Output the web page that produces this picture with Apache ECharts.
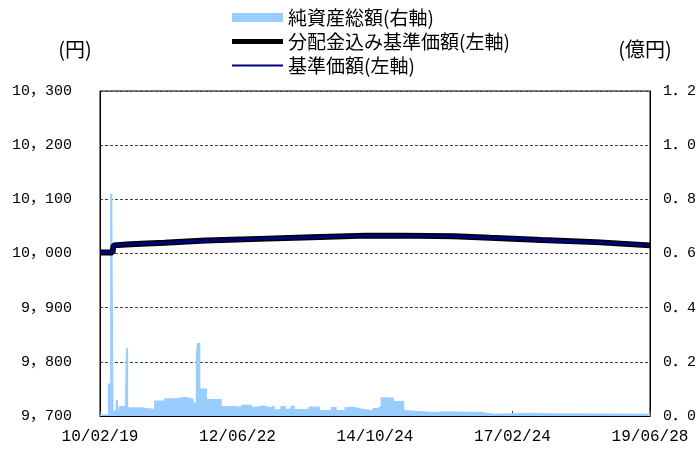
<!DOCTYPE html>
<html>
<head>
<meta charset="utf-8">
<script src="https://cdn.jsdelivr.net/npm/echarts@6/dist/echarts.min.js"></script>
<style>
  html, body { margin: 0; padding: 0; background: #fff; }
  #chart { width: 699px; height: 450px; }
</style>
</head>
<body>
<div id="chart"></div>
<script>
// Weekly fund figures, 2010/02/19 - 2019/06/28
const startDate = '2010-02-19';
const endDate = '2019-06-28';

// Net assets (100 million yen), value held from each date until the next one
const assetDates = [
  '2010-02-19', '2010-04-09', '2010-04-23', '2010-05-07', '2010-05-14', '2010-05-28',
  '2010-06-11', '2010-06-18', '2010-07-23', '2010-07-30', '2010-08-13', '2010-10-29',
  '2011-01-21', '2011-03-25', '2011-06-03', '2011-08-05', '2011-09-23', '2011-10-07',
  '2011-10-14', '2011-11-04', '2011-12-16', '2012-03-16', '2012-06-08', '2012-07-13',
  '2012-09-21', '2012-10-12', '2012-11-30', '2013-01-11', '2013-02-08', '2013-03-15',
  '2013-04-19', '2013-05-17', '2013-06-14', '2013-09-06', '2013-11-15', '2014-01-24',
  '2014-02-28', '2014-04-18', '2014-06-20', '2014-08-08', '2014-10-10', '2014-11-07',
  '2014-11-28', '2015-01-09', '2015-02-20', '2015-04-24', '2015-05-01', '2015-10-30',
  '2016-01-01', '2016-08-19', '2016-11-04', '2017-06-16', '2017-09-22', '2018-09-21',
  '2019-06-28'
];
const assetValues = [
  0.006, 0.12, 0.82, 0.72, 0.02, 0.059,
  0.02, 0.037, 0.03, 0.25, 0.032, 0.027,
  0.057, 0.066, 0.071, 0.064, 0.05, 0.22,
  0.27, 0.102, 0.063, 0.037, 0.034, 0.042,
  0.034, 0.039, 0.033, 0.039, 0.025, 0.037,
  0.027, 0.038, 0.026, 0.035, 0.022, 0.033,
  0.022, 0.033, 0.027, 0.022, 0.03, 0.037,
  0.069, 0.067, 0.055, 0.022, 0.015, 0.018,
  0.015, 0.0085, 0.012, 0.01, 0.009, 0.008,
  0.008
];

// NAV (yen)
const navDates = [
  '2010-02-19', '2010-05-07', '2010-05-14', '2010-08-27', '2011-03-25', '2011-12-09',
  '2012-11-02', '2013-09-27', '2014-08-29', '2015-04-03', '2016-02-26', '2016-10-07',
  '2017-08-25', '2018-07-27', '2019-06-28'
];
const navValues = [
  10002, 10002, 10015, 10017, 10020, 10024,
  10027, 10030, 10033, 10033, 10032, 10029,
  10025, 10021, 10015
];
// NAV including distributions (yen)
const navWithDivValues = [
  10002, 10002, 10015, 10017, 10020, 10024,
  10027, 10030, 10033, 10033, 10032, 10029,
  10025, 10021, 10015
];

const leftTicks = { min: 9700, max: 10300, step: 100 };
const rightTicks = { min: 0, max: 1.2, step: 0.2 };

const DAY = 86400000;
function toUTC(s) {
  const p = s.split('-').map(Number);
  return Date.UTC(p[0], p[1] - 1, p[2]);
}
const t0 = toUTC(startDate);
const dayOf = s => Math.round((toUTC(s) - t0) / DAY);
const totalDays = dayOf(endDate);
const pad = n => (n < 10 ? '0' : '') + n;
function fmtDay(d) {
  const dt = new Date(t0 + d * DAY);
  return pad(dt.getUTCFullYear() % 100) + '/' + pad(dt.getUTCMonth() + 1) + '/' + pad(dt.getUTCDate());
}
const pairs = (dates, vals) => dates.map((d, i) => [dayOf(d), vals[i]]);

// Full-width separators, as printed in the report
const fmtYen = v => {
  const s = String(Math.round(v));
  return s.length > 3 ? s.slice(0, -3) + '，' + s.slice(-3) : s;
};
const fmtOku = v => v.toFixed(1).replace('.', '．');

const monoFont = '"Liberation Mono", "Noto Sans CJK JP", monospace';
const cjkFont = '"Noto Sans CJK JP", sans-serif';

// Legend bars: a thick and a thin stroke inside the 51x9 icon box
const thickLineIcon = 'path://M0,0M51,9M0,2H51V7H0Z';
const thinLineIcon = 'path://M0,0M51,9M0,3.5H51V5.5H0Z';

const chart = echarts.init(document.getElementById('chart'), null, { renderer: 'canvas' });
chart.setOption({
  animation: false,
  backgroundColor: '#fff',
  grid: {
    left: 100, right: 44, top: 91, bottom: 34,
    show: true, borderColor: '#000', borderWidth: 1
  },
  legend: {
    orient: 'vertical',
    left: 232, top: 8, padding: 0,
    itemWidth: 51, itemHeight: 9, itemGap: 5,
    textStyle: { fontFamily: cjkFont, fontSize: 19, color: '#000' },
    data: [
      { name: '純資産総額(右軸)', icon: 'rect' },
      { name: '分配金込み基準価額(左軸)', icon: thickLineIcon },
      { name: '基準価額(左軸)', icon: thinLineIcon }
    ]
  },
  xAxis: {
    type: 'value',
    min: 0, max: totalDays, interval: Math.round(totalDays / 4),
    axisLine: { show: true, lineStyle: { color: '#000', width: 1 } },
    axisTick: { show: true, inside: true, length: 5, lineStyle: { color: '#444' } },
    axisLabel: {
      fontFamily: monoFont, fontSize: 16, color: '#000', margin: 13,
      formatter: v => fmtDay(v)
    },
    splitLine: { show: false }
  },
  yAxis: [
    {
      type: 'value', position: 'left',
      min: leftTicks.min, max: leftTicks.max, interval: leftTicks.step,
      name: '(円)', nameLocation: 'end', nameGap: 32,
      nameTextStyle: { fontFamily: cjkFont, fontSize: 20, color: '#000', align: 'center', padding: [0, 50, 0, 0] },
      axisLine: { show: true, lineStyle: { color: '#000' } },
      axisTick: { show: false },
      axisLabel: {
        fontFamily: monoFont, fontSize: 15, color: '#000', margin: 28,
        formatter: fmtYen
      },
      splitLine: { show: true, lineStyle: { color: '#444', width: 1, type: [3, 2] } }
    },
    {
      type: 'value', position: 'right',
      min: rightTicks.min, max: rightTicks.max, interval: rightTicks.step,
      name: '(億円)', nameLocation: 'end', nameGap: 32,
      nameTextStyle: { fontFamily: cjkFont, fontSize: 20, color: '#000', align: 'center', padding: [0, 10, 0, 0] },
      axisLine: { show: true, lineStyle: { color: '#000' } },
      axisTick: { show: false },
      axisLabel: {
        fontFamily: monoFont, fontSize: 15, color: '#000', margin: 13,
        formatter: fmtOku
      },
      splitLine: { show: false }
    }
  ],
  series: [
    {
      name: '純資産総額(右軸)',
      type: 'line', yAxisIndex: 1, step: 'end',
      symbol: 'none',
      color: '#99ccff',
      lineStyle: { width: 0 },
      areaStyle: { color: '#99ccff', opacity: 1 },
      z: 1,
      data: pairs(assetDates, assetValues)
    },
    {
      name: '分配金込み基準価額(左軸)',
      type: 'line', yAxisIndex: 0,
      symbol: 'none',
      color: '#000',
      lineStyle: { color: '#000', width: 6 },
      z: 3,
      data: pairs(navDates, navWithDivValues)
    },
    {
      name: '基準価額(左軸)',
      type: 'line', yAxisIndex: 0,
      symbol: 'none',
      color: '#000080',
      lineStyle: { color: '#000080', width: 3 },
      z: 4,
      data: pairs(navDates, navValues)
    }
  ]
});
</script>
</body>
</html>
